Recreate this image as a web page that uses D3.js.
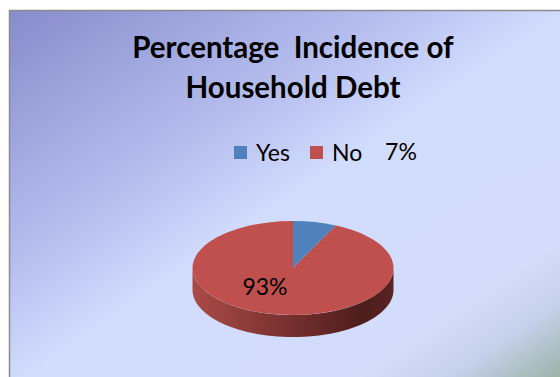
<!DOCTYPE html>
<html>
<head>
<meta charset="utf-8">
<script src="https://cdn.jsdelivr.net/npm/d3@7"></script>
<style>
  body { margin: 0; background: #fff; }
  text { font-family: Lato, "Open Sans", sans-serif; }
</style>
</head>
<body>
<div id="chart"></div>
<script>
const width = 560;
const height = 377;

// data
const titleLines = ["Percentage  Incidence of", "Household Debt"];
const categories = ["Yes", "No"];
const values = [7, 93];
const labels = ["7%", "93%"];
const colors = ["#4f81bd", "#c0504d"];

// pie geometry (ellipse on screen)
const cx = 293, cy = 268;
const rx = 100.5, ry = 47;
const depth = 22;

const svg = d3.select("#chart").append("svg").attr("width", width).attr("height", height);
const defs = svg.append("defs");

const bg = defs.append("linearGradient").attr("id", "bg")
    .attr("x1", 0).attr("y1", 0).attr("x2", 1).attr("y2", 1);
[[0, "#878ccb"], [0.34, "#b6beef"], [0.5, "#d2dcfd"], [0.8, "#d3dcfb"], [0.88, "#c5d0ea"], [1, "#94ab98"]]
    .forEach(s => bg.append("stop").attr("offset", s[0]).attr("stop-color", s[1]));

const side = defs.append("linearGradient").attr("id", "side")
    .attr("gradientUnits", "userSpaceOnUse")
    .attr("x1", cx - rx).attr("x2", cx + rx).attr("y1", 0).attr("y2", 0);
[[0, "#a94b46"], [0.45, "#7a3230"], [0.85, "#4c1d1c"], [1, "#5a2423"]]
    .forEach(s => side.append("stop").attr("offset", s[0]).attr("stop-color", s[1]));

// frame
svg.append("rect")
    .attr("x", 9.5).attr("y", 10.5)
    .attr("width", width).attr("height", height)
    .attr("fill", "url(#bg)")
    .attr("stroke", "#8c8c8c").attr("stroke-width", 1.5);

// title
svg.append("text")
    .attr("text-anchor", "middle")
    .attr("font-weight", "bold")
    .attr("font-size", 29.5)
    .style("white-space", "pre")
    .selectAll("tspan")
    .data(titleLines)
    .join("tspan")
    .attr("x", 293)
    .attr("y", (d, i) => 58 + i * 40)
    .text(d => d);

// legend
const legendX = d3.scalePoint().domain(categories).range([234, 310]);
const legend = svg.selectAll("g.legend")
    .data(categories)
    .join("g")
    .attr("class", "legend")
    .attr("transform", d => `translate(${legendX(d)},146)`);
legend.append("rect")
    .attr("width", 13).attr("height", 13)
    .attr("fill", (d, i) => colors[i]);
legend.append("text")
    .attr("x", 22).attr("y", 15)
    .attr("font-size", 23)
    .text(d => d);

// pie
const pie = d3.pie().sort(null).value(d => d);
const arcs = pie(values);

const arc = d3.arc().innerRadius(0).outerRadius(rx);
const sy = ry / rx;

function pt(a, yOff) {
    return [cx + rx * Math.sin(a), cy - ry * Math.cos(a) + yOff];
}

// side walls (front half only: angles PI/2 .. 3PI/2)
const sideData = arcs.map((d, i) => {
    const a0 = Math.max(d.startAngle, Math.PI / 2);
    const a1 = Math.min(d.endAngle, 3 * Math.PI / 2);
    return { i, a0, a1 };
}).filter(d => d.a1 > d.a0);

svg.selectAll("path.side")
    .data(sideData)
    .join("path")
    .attr("class", "side")
    .attr("fill", "url(#side)")
    .attr("d", d => {
        const p = d3.path();
        const n = 60;
        const top = d3.range(n + 1).map(k => pt(d.a0 + (d.a1 - d.a0) * k / n, 0));
        const bot = d3.range(n + 1).map(k => pt(d.a1 - (d.a1 - d.a0) * k / n, depth));
        p.moveTo(top[0][0], top[0][1]);
        top.slice(1).forEach(q => p.lineTo(q[0], q[1]));
        bot.forEach(q => p.lineTo(q[0], q[1]));
        p.closePath();
        return p.toString();
    });

// top face
svg.append("g")
    .attr("transform", `translate(${cx},${cy}) scale(1,${sy})`)
    .selectAll("path")
    .data(arcs)
    .join("path")
    .attr("fill", (d, i) => colors[i])
    .attr("d", arc);

// data labels
const labelPos = [[401, 160], [265, 295]];
svg.selectAll("text.label")
    .data(labels)
    .join("text")
    .attr("class", "label")
    .attr("text-anchor", "middle")
    .attr("font-size", 23)
    .attr("x", (d, i) => labelPos[i][0])
    .attr("y", (d, i) => labelPos[i][1])
    .text(d => d);
</script>
</body>
</html>
